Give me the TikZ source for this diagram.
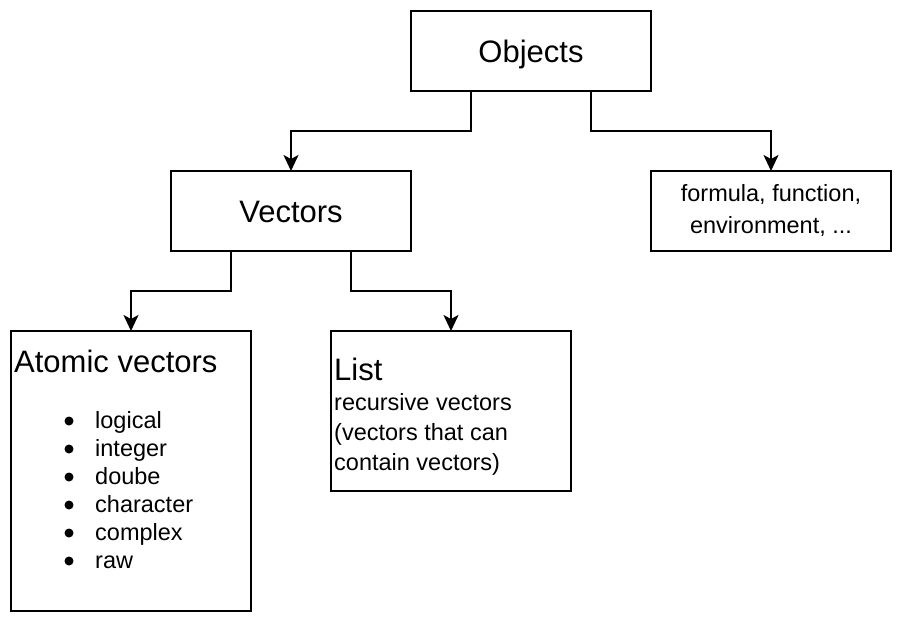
\documentclass[tikz,border=0pt]{standalone}
\usepackage{fontspec}
\setmainfont{Liberation Sans}
\usetikzlibrary{arrows.meta}
\begin{document}
\begin{tikzpicture}[x=1pt,y=-1pt,
  box/.style={draw, line width=2pt, inner sep=0pt, outer sep=0pt, minimum width=240pt},
  conn/.style={line width=2pt, -{Stealth[length=16pt,width=15pt,inset=4pt]}},
  big/.style={font=\fontsize{31}{37}\selectfont, inner sep=0pt},
  small/.style={font=\fontsize{23.5}{28}\selectfont, inner sep=0pt},
  dot/.style={circle, fill, inner sep=0pt, minimum size=9pt}]
\useasboundingbox (0,0) rectangle (902,622);
% boxes
\node[box, minimum height=80pt] (obj) at (531,51) {};
\node[box, minimum height=80pt] (vec) at (291,211) {};
\node[box, minimum height=80pt] (oth) at (771,211) {};
\node[box, minimum height=280pt] (atom) at (131,471) {};
\node[box, minimum height=160pt] (lst) at (451,411) {};
% texts
\node[big, anchor=base] (objt) at (531,62) {Objects};
\node[big, anchor=base] (vect) at (291,222) {Vectors};
\node[small, anchor=base] (otha) at (771,201) {formula, function,};
\node[small, anchor=base] (othb) at (771,233) {environment, ...};
\node[big, anchor=base west] (atomt) at (14,372) {Atomic vectors};
\foreach \t [count=\i from 0] in {logical,integer,doube,character,complex,raw}{
  \node[small, anchor=base west] (item\i) at (95,{428+28*\i}) {\t};
  \node[dot] (bul\i) at (69,{421+28*\i}) {};
}
\node[big, anchor=base west] (lstt) at (334,380) {List};
\node[small, anchor=base west] (lsta) at (334,410) {recursive vectors};
\node[small, anchor=base west] (lstb) at (334,440) {(vectors that can};
\node[small, anchor=base west] (lstc) at (334,470) {contain vectors)};
% connectors
\draw[conn] ([xshift=-60pt]obj.south) -- ++(0,40) -| (vec.north);
\draw[conn] ([xshift=60pt]obj.south) -- ++(0,40) -| (oth.north);
\draw[conn] ([xshift=-60pt]vec.south) -- ++(0,40) -| (atom.north);
\draw[conn] ([xshift=60pt]vec.south) -- ++(0,40) -| (lst.north);
\end{tikzpicture}
\end{document}
